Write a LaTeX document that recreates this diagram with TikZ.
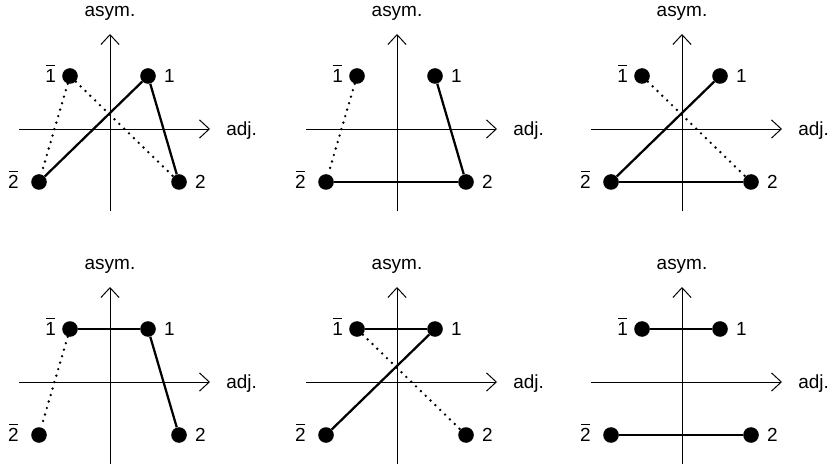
\documentclass[tikz,border=0pt]{standalone}
\usepackage{fontspec}
\setmainfont{Liberation Sans}
\usepackage{tikz}
\usetikzlibrary{arrows.meta}
\newcommand{\ovl}[1]{\ooalign{#1\cr\hidewidth\raisebox{0.86em}{\rule{0.46em}{0.055em}}\hidewidth\cr}}
\tikzset{
  axis/.style={-{Straight Barb[length=7pt, width=13pt]}, line width=0.7pt},
  site/.style={circle, fill=black, inner sep=0pt, minimum size=0.39cm},
  lbl/.style={inner sep=0pt},
  axlabel/.style={inner sep=0pt},
  bond/.style={line width=1.6pt},
  weak/.style={line width=1.9pt, line cap=round, dash pattern=on 0pt off 4.8pt}
}

\begin{document}
\begin{tikzpicture}[font=\fontsize{13.5}{16}\selectfont]
  \useasboundingbox (0,0) rectangle (20.825,11.75);
  % axes and the four sites of each panel
  \foreach \p/\x/\y in {A/2.75/8.525, B/9.925/8.525, C/17.05/8.525,
                        D/2.75/2.2, E/9.925/2.2, F/17.05/2.2} {
    \begin{scope}[shift={(\x,\y)}]
      \draw[axis] (-2.275,0) -- (2.5,0);
      \draw[axis] (0,-2.06) -- (0,2.375);
      \node[axlabel] (\p-asym) at (0,2.88) {asym.};
      \node[axlabel, anchor=west] (\p-adj) at (2.9,-0.04) {adj.};
      \node[site, label={[lbl, label distance=4pt]left:\ovl{1}}] (\p-b1) at (-1.0,1.325) {};
      \node[site, label={[lbl, label distance=5.5pt]right:1}] (\p-1) at (0.95,1.325) {};
      \node[site, label={[lbl, label distance=8.5pt]left:\ovl{2}}] (\p-b2) at (-1.775,-1.325) {};
      \node[site, label={[lbl, label distance=5.5pt]right:2}] (\p-2) at (1.725,-1.325) {};
    \end{scope}
  }
  % panel A
  \draw[weak] (A-b1) -- (A-b2);
  \draw[weak] (A-b1) -- (A-2);
  \draw[bond] (A-b2) -- (A-1);
  \draw[bond] (A-1) -- (A-2);
  % panel B
  \draw[weak] (B-b1) -- (B-b2);
  \draw[bond] (B-1) -- (B-2);
  \draw[bond] (B-b2) -- (B-2);
  % panel C
  \draw[weak] (C-b1) -- (C-2);
  \draw[bond] (C-b2) -- (C-1);
  \draw[bond] (C-b2) -- (C-2);
  % panel D
  \draw[bond] (D-b1) -- (D-1);
  \draw[weak] (D-b1) -- (D-b2);
  \draw[bond] (D-1) -- (D-2);
  % panel E
  \draw[bond] (E-b1) -- (E-1);
  \draw[weak] (E-b1) -- (E-2);
  \draw[bond] (E-b2) -- (E-1);
  % panel F
  \draw[bond] (F-b1) -- (F-1);
  \draw[bond] (F-b2) -- (F-2);
\end{tikzpicture}
\end{document}
